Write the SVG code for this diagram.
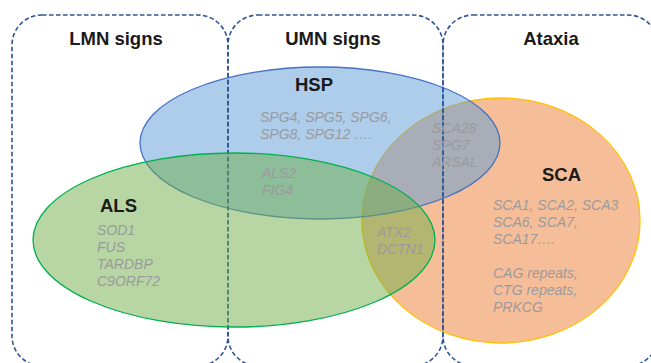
<svg xmlns="http://www.w3.org/2000/svg" width="651" height="363" viewBox="0 0 651 363">
  <style>
    .region { fill: none; stroke: #2f5597; stroke-width: 1.6; stroke-dasharray: 4.5 2.5; }
    .head { font-family: "Liberation Sans", Arial, sans-serif; font-weight: bold; font-size: 18.5px; fill: #1a1a1a; }
    .gene { font-family: "Liberation Sans", Arial, sans-serif; font-style: italic; font-size: 14px; fill: #9a9a9e; }
  </style>
  <rect width="651" height="363" fill="#ffffff"/>

  <!-- disease ellipses: SCA below, HSP over it, ALS on top -->
  <g id="sca">
    <ellipse cx="501" cy="220.5" rx="139" ry="122.5" fill="#ed7d31" fill-opacity="0.5" stroke="#ffc000" stroke-width="1.3"/>
  </g>
  <g id="hsp">
    <ellipse cx="320" cy="143" rx="180" ry="76" fill="#5b9bd5" fill-opacity="0.5" stroke="#4472c4" stroke-width="1.3"/>
  </g>

  <!-- clinical sign regions (dashed) -->
  <g id="regions">
    <g id="lmn"><rect class="region" x="12" y="15" width="216" height="351" rx="30" ry="30"/></g>
    <g id="umn"><rect class="region" x="228" y="15" width="215" height="351" rx="30" ry="30"/></g>
    <g id="ataxia"><rect class="region" x="443" y="15" width="215" height="351" rx="30" ry="30"/></g>
  </g>

  <g id="als">
    <ellipse cx="234" cy="240" rx="201" ry="87" fill="#70ad47" fill-opacity="0.5" stroke="#00b050" stroke-width="1.3"/>
  </g>

  <!-- labels -->
  <g id="labels">
    <text class="head" x="116" y="45" text-anchor="middle">LMN signs</text>
    <text class="head" x="333" y="45" text-anchor="middle">UMN signs</text>
    <text class="head" x="551" y="45" text-anchor="middle">Ataxia</text>

    <text class="head" x="295" y="91">HSP</text>
    <text class="gene" x="260" y="122">SPG4, SPG5, SPG6,</text>
    <text class="gene" x="260" y="139">SPG8, SPG12 ….</text>

    <text class="gene" x="262" y="178">ALS2</text>
    <text class="gene" x="262" y="195">FIG4</text>

    <text class="gene" x="432" y="133">SCA28</text>
    <text class="gene" x="432" y="150">SPG7</text>
    <text class="gene" x="432" y="167">ARSAL</text>

    <text class="head" x="542" y="181">SCA</text>
    <text class="gene" x="493" y="210">SCA1, SCA2, SCA3</text>
    <text class="gene" x="493" y="227">SCA6, SCA7,</text>
    <text class="gene" x="493" y="244">SCA17….</text>
    <text class="gene" x="493" y="278">CAG repeats,</text>
    <text class="gene" x="493" y="295">CTG repeats,</text>
    <text class="gene" x="493" y="312">PRKCG</text>

    <text class="head" x="100" y="212">ALS</text>
    <text class="gene" x="97" y="235">SOD1</text>
    <text class="gene" x="97" y="252">FUS</text>
    <text class="gene" x="97" y="269">TARDBP</text>
    <text class="gene" x="97" y="286">C9ORF72</text>

    <text class="gene" x="377" y="237">ATX2</text>
    <text class="gene" x="377" y="254">DCTN1</text>
  </g>
</svg>
